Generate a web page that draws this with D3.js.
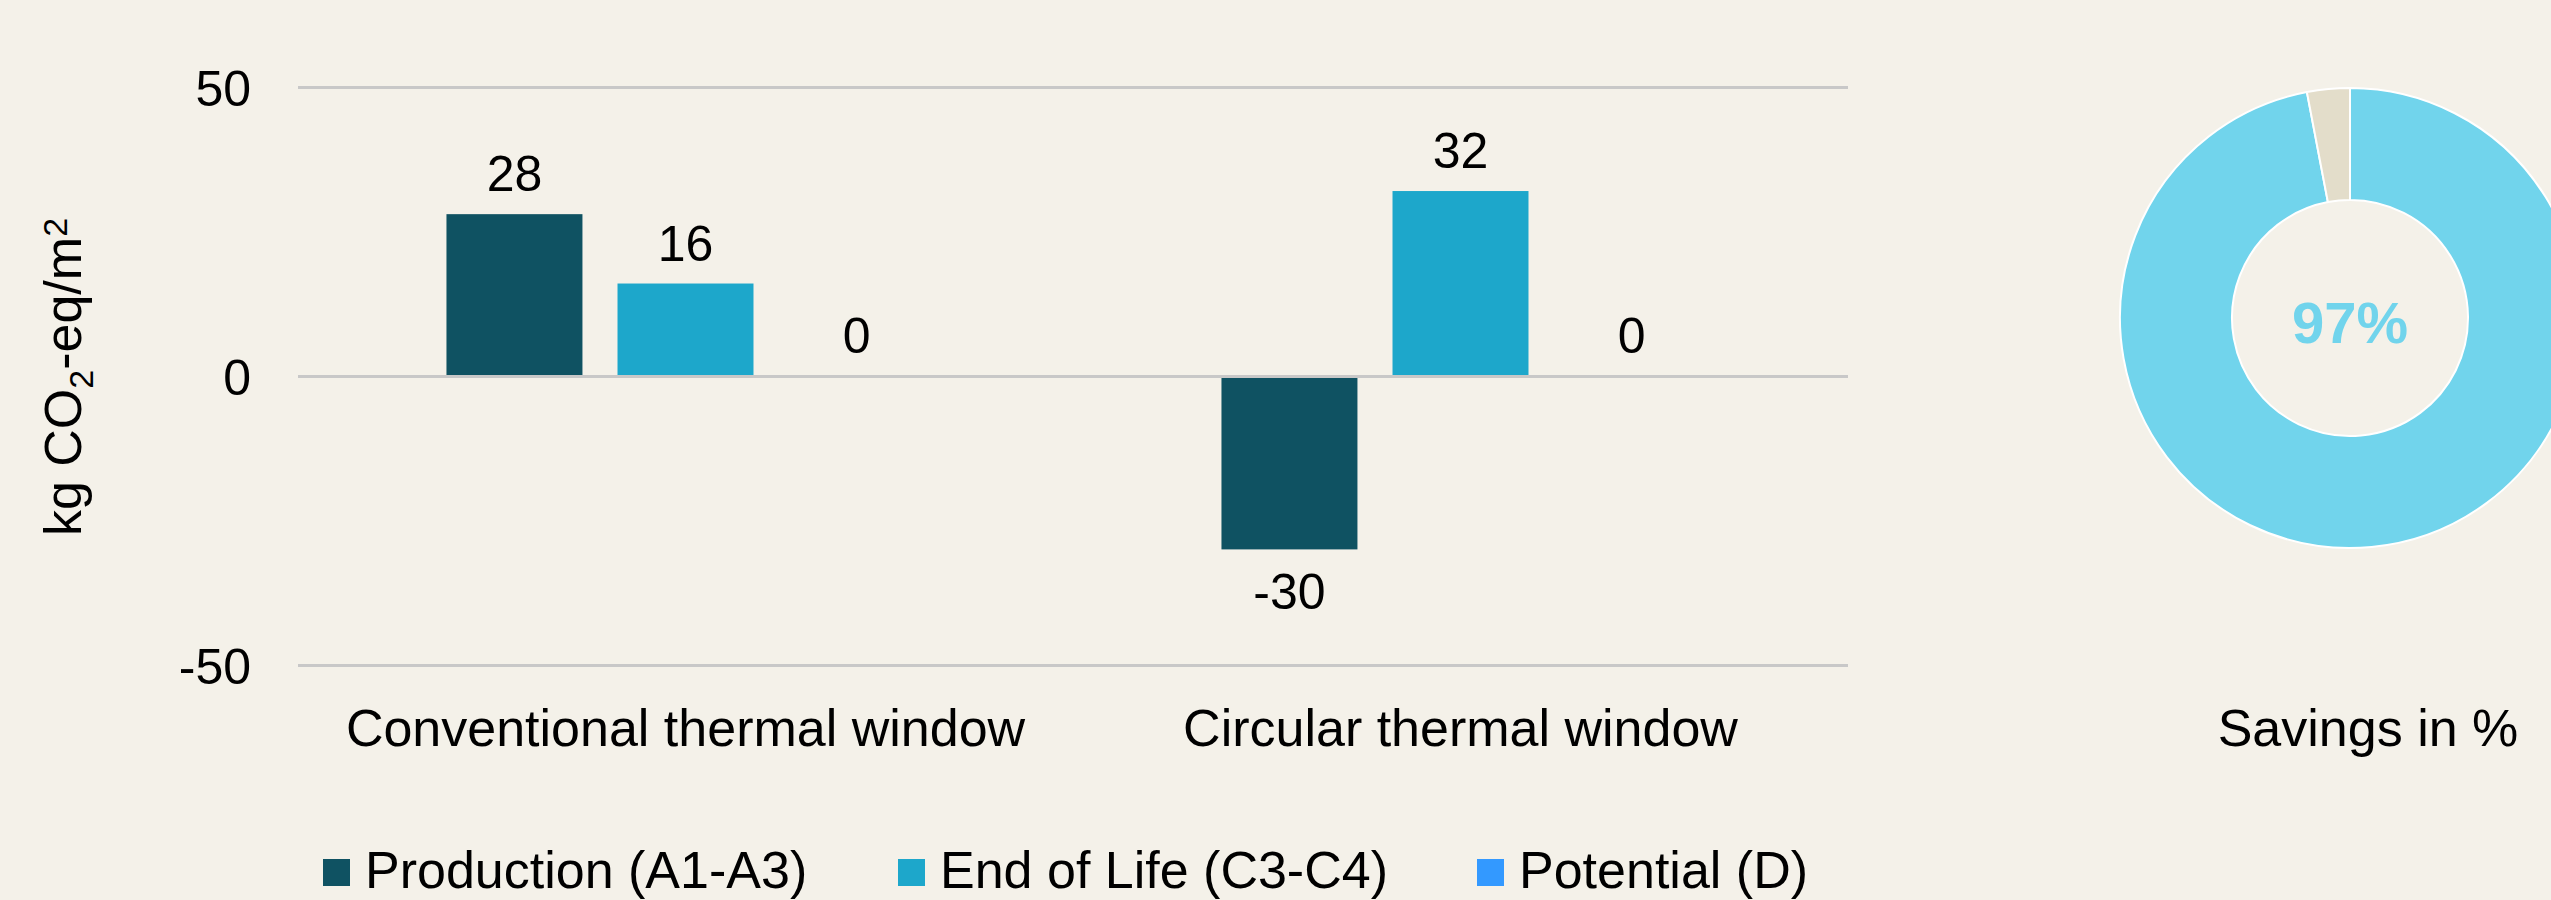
<!DOCTYPE html>
<html>
<head>
<meta charset="utf-8">
<script src="https://cdn.jsdelivr.net/npm/d3@7"></script>
<style>
    body { margin: 0; background: #f4f1e9; overflow: hidden; }
    text { font-family: "Liberation Sans", Arial, Helvetica, sans-serif; fill: #000; }
</style>
</head>
<body>
<div id="chart"></div>
<script>
// Data
var categories = ["Conventional thermal window", "Circular thermal window"];
var seriesNames = ["Production (A1-A3)", "End of Life (C3-C4)", "Potential (D)"];
var seriesColors = ["#0f5262", "#1da7cb", "#3399ff"];
var production = [28, -30];
var endOfLife = [16, 32];
var potential = [0, 0];
var yTicks = [-50, 0, 50];
var savingsLabel = "Savings in %";
var savingsValues = [97, 3];
var savingsColors = ["#71d4ec", "#e3ddca"];

var svgWidth = 2551;
var svgHeight = 900;

var svg = d3.select("#chart")
    .append("svg")
    .attr("width", svgWidth)
    .attr("height", svgHeight);

svg.append("rect")
    .attr("width", svgWidth)
    .attr("height", svgHeight)
    .attr("fill", "#f4f1e9");

// scales
var plotLeft = 298, plotRight = 1848;
var x0 = d3.scaleBand()
    .domain(categories)
    .range([plotLeft, plotRight])
    .padding(0);

var x1 = d3.scaleBand()
    .domain(seriesNames)
    .range([0, x0.bandwidth()])
    .paddingInner(0.205)
    .paddingOuter(0.868);

var y = d3.scaleLinear()
    .domain([-50, 50])
    .range([665, 87]);

// build rows from the arrays
var allSeries = [production, endOfLife, potential];
var rows = [];
categories.forEach(function (c, i) {
    seriesNames.forEach(function (s, j) {
        rows.push({ cat: c, series: s, value: allSeries[j][i], color: seriesColors[j] });
    });
});

// bars
svg.append("g")
    .selectAll("rect")
    .data(rows)
    .enter()
    .append("rect")
    .attr("x", function (d) { return x0(d.cat) + x1(d.series); })
    .attr("y", function (d) { return y(Math.max(0, d.value)); })
    .attr("width", x1.bandwidth())
    .attr("height", function (d) { return Math.abs(y(d.value) - y(0)); })
    .attr("fill", function (d) { return d.color; });

// y axis with gridlines
var yAxis = d3.axisLeft(y)
    .tickValues(yTicks)
    .tickFormat(function (d) { return String(d); })
    .tickSize(-(plotRight - plotLeft))
    .tickPadding(47);

var yG = svg.append("g")
    .attr("transform", "translate(" + plotLeft + ",0)")
    .call(yAxis);
yG.select(".domain").remove();
yG.selectAll(".tick line")
    .attr("stroke", "#c8c8c8")
    .attr("stroke-width", 3);
yG.selectAll(".tick text")
    .attr("font-size", 50)
    .attr("dy", "0.37em")
    .attr("font-family", "'Liberation Sans', Arial, sans-serif")
    .attr("fill", "#000");

// data labels
svg.append("g")
    .selectAll("text")
    .data(rows)
    .enter()
    .append("text")
    .attr("x", function (d) { return x0(d.cat) + x1(d.series) + x1.bandwidth() / 2; })
    .attr("y", function (d) {
        return d.value < 0 ? y(d.value) + 60 : y(d.value) - 23;
    })
    .attr("text-anchor", "middle")
    .attr("font-size", 50)
    .text(function (d) { return d.value; });

// category labels
var xAxis = d3.axisBottom(x0).tickSize(0).tickPadding(0);
var xG = svg.append("g")
    .attr("transform", "translate(0,746)")
    .call(xAxis);
xG.select(".domain").remove();
xG.selectAll(".tick text")
    .attr("y", 0)
    .attr("dy", 0)
    .attr("font-size", 52)
    .attr("font-family", "'Liberation Sans', Arial, sans-serif")
    .attr("fill", "#000");

// y axis title
var yTitle = svg.append("text")
    .attr("transform", "translate(81,377) rotate(-90)")
    .attr("text-anchor", "middle")
    .attr("font-size", 52);
yTitle.append("tspan").text("kg CO");
yTitle.append("tspan").attr("font-size", 34).attr("dy", 12).text("2");
yTitle.append("tspan").attr("dy", -12).text("-eq/m");
yTitle.append("tspan").attr("font-size", 34).attr("dy", -14).text("2");

// legend (sits at the bottom edge like the original)
var legendX = [323, 898, 1477];
var legend = svg.append("g")
    .selectAll("g")
    .data(seriesNames)
    .enter()
    .append("g")
    .attr("transform", function (d, i) { return "translate(" + legendX[i] + ",0)"; });
legend.append("rect")
    .attr("y", 859)
    .attr("width", 27)
    .attr("height", 27)
    .attr("fill", function (d, i) { return seriesColors[i]; });
legend.append("text")
    .attr("x", 42)
    .attr("y", 888)
    .attr("font-size", 52)
    .text(function (d) { return d; });

// donut
var pie = d3.pie().sort(null)(savingsValues);
var arc = d3.arc().innerRadius(118).outerRadius(230);
var donut = svg.append("g").attr("transform", "translate(2350,318)");
donut.selectAll("path")
    .data(pie)
    .enter()
    .append("path")
    .attr("d", arc)
    .attr("fill", function (d, i) { return savingsColors[i]; })
    .attr("stroke", "#ffffff")
    .attr("stroke-width", 2);

donut.append("text")
    .attr("text-anchor", "middle")
    .attr("y", 25)
    .attr("font-size", 58)
    .attr("font-weight", "bold")
    .style("fill", savingsColors[0])
    .text(savingsValues[0] + "%");

svg.append("text")
    .attr("x", 2368)
    .attr("y", 746)
    .attr("text-anchor", "middle")
    .attr("font-size", 52)
    .text(savingsLabel);
</script>
</body>
</html>
